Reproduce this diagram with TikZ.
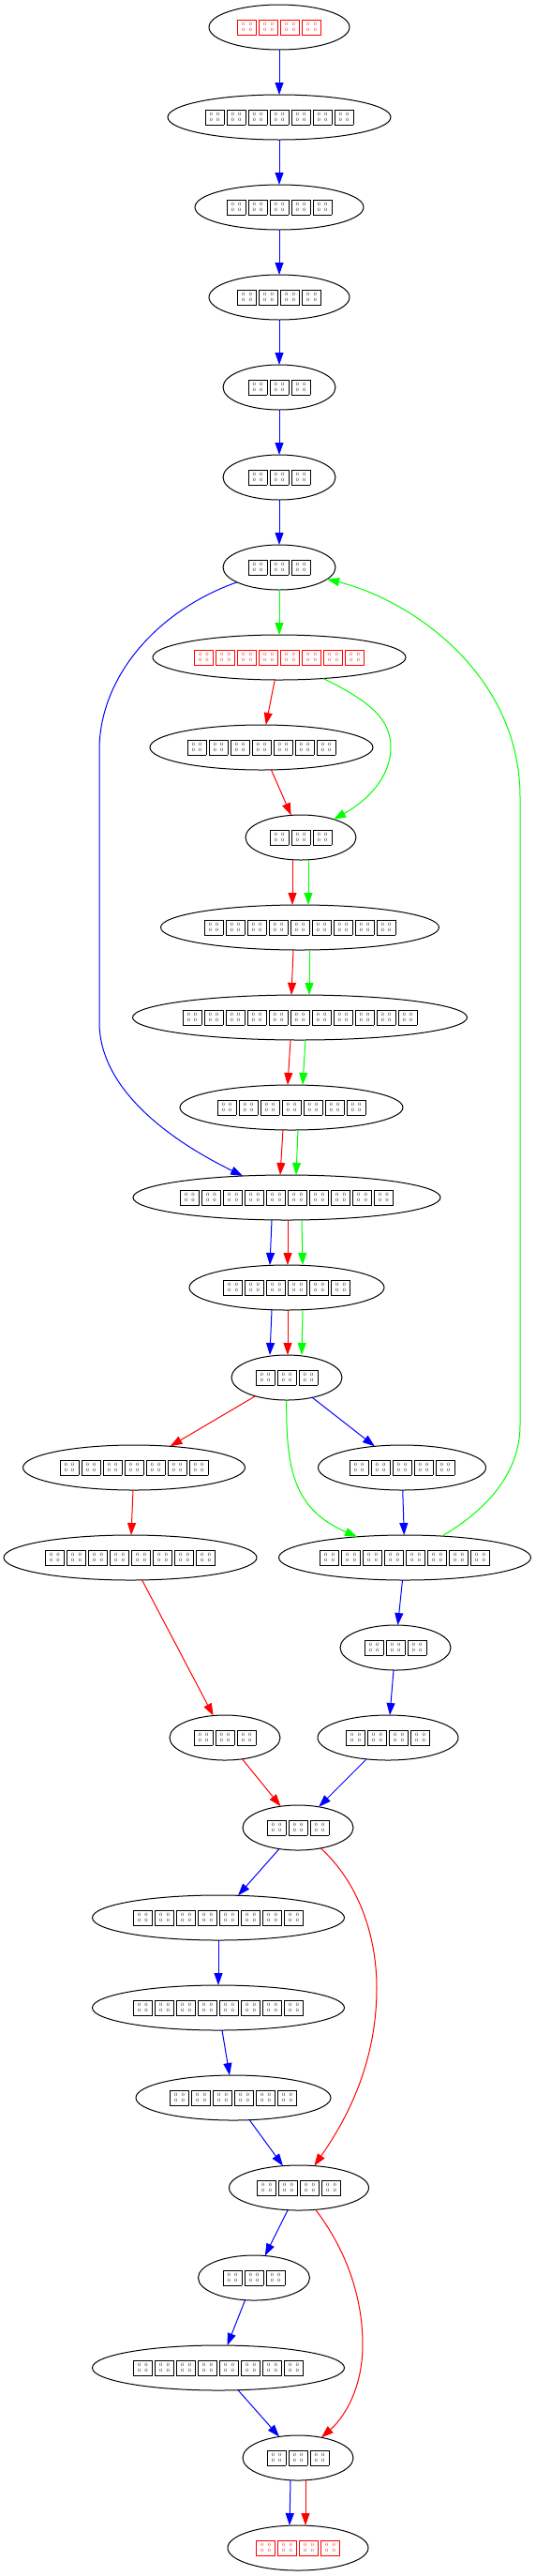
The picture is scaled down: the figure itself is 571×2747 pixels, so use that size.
\documentclass[tikz,border=0pt]{standalone}
\usetikzlibrary{shapes.geometric,arrows.meta,calc}
\newcommand\tofuglyph{\kern1.2pt{\fboxsep=0pt\fboxrule=0.8pt\fbox{\fontsize{5}{5}\selectfont\vbox to 15pt{\vss\hbox to 19pt{\hss0\kern4pt0\hss}\kern0.6pt\hbox to 19pt{\hss0\kern4pt0\hss}\vss}}}\kern1.2pt}
\newcommand\tofus[1]{\makebox[0pt]{\foreach\i in {1,...,#1}{\tofuglyph}}}
\begin{document}
\begin{tikzpicture}[x=1pt,y=-1pt,
  nd/.style={ellipse,draw=black,line width=1pt,minimum height=48pt,inner sep=0pt,outer sep=0pt},
  arr/.style={line width=1pt,-{Triangle[length=13pt,width=9pt]}}]
\useasboundingbox (0,0) rectangle (571,2747);
\node[nd,minimum width=150pt,text=red] (n1) at (298,29) {\tofus{4}};
\node[nd,minimum width=238pt] (n2) at (298,125) {\tofus{7}};
\node[nd,minimum width=180pt] (n3) at (298,221) {\tofus{5}};
\node[nd,minimum width=150pt] (n4) at (298,317) {\tofus{4}};
\node[nd,minimum width=120pt] (n5) at (298,413) {\tofus{3}};
\node[nd,minimum width=120pt] (n6) at (298,509) {\tofus{3}};
\node[nd,minimum width=120pt] (n7) at (298,605) {\tofus{3}};
\node[nd,minimum width=270pt,text=red] (n8) at (298,701) {\tofus{8}};
\node[nd,minimum width=238pt] (n9) at (279,797) {\tofus{7}};
\node[nd,minimum width=118pt] (n10) at (321,893) {\tofus{3}};
\node[nd,minimum width=297pt] (n11) at (320,989) {\tofus{9}};
\node[nd,minimum width=357pt] (n12) at (320,1085) {\tofus{11}};
\node[nd,minimum width=238pt] (n13) at (311,1181) {\tofus{7}};
\node[nd,minimum width=328pt] (n14) at (306,1277) {\tofus{10}};
\node[nd,minimum width=208pt] (n15) at (306,1373) {\tofus{6}};
\node[nd,minimum width=118pt] (n16) at (306,1469) {\tofus{3}};
\node[nd,minimum width=237pt] (n17) at (143,1565) {\tofus{7}};
\node[nd,minimum width=179pt] (n18) at (429,1565) {\tofus{5}};
\node[nd,minimum width=270pt] (n19) at (139,1661) {\tofus{8}};
\node[nd,minimum width=269pt] (n20) at (432,1661) {\tofus{8}};
\node[nd,minimum width=118pt] (n21) at (422,1757) {\tofus{3}};
\node[nd,minimum width=118pt] (n22) at (240,1853) {\tofus{3}};
\node[nd,minimum width=150pt] (n23) at (414,1853) {\tofus{4}};
\node[nd,minimum width=118pt] (n24) at (318,1949) {\tofus{3}};
\node[nd,minimum width=269pt] (n25) at (233,2045) {\tofus{8}};
\node[nd,minimum width=269pt] (n26) at (233,2141) {\tofus{8}};
\node[nd,minimum width=208pt] (n27) at (249,2237) {\tofus{6}};
\node[nd,minimum width=149pt] (n28) at (319,2333) {\tofus{4}};
\node[nd,minimum width=119pt] (n29) at (271,2429) {\tofus{3}};
\node[nd,minimum width=269pt] (n30) at (233,2525) {\tofus{8}};
\node[nd,minimum width=118pt] (n31) at (318,2621) {\tofus{3}};
\node[nd,minimum width=150pt,text=red] (n32) at (318,2717) {\tofus{4}};
% top chain
\draw[arr,blue] (n1) -- (n2);
\draw[arr,blue] (n2) -- (n3);
\draw[arr,blue] (n3) -- (n4);
\draw[arr,blue] (n4) -- (n5);
\draw[arr,blue] (n5) -- (n6);
\draw[arr,blue] (n6) -- (n7);
\draw[arr,green] (n7) -- (n8);
\draw[arr,blue] (n7) .. controls (170,650) and (106,720) .. (106,800) -- (106,1090) .. controls (106,1170) and (200,1225) .. (n14);
\draw[arr,red] (n8) -- (n9);
\draw[arr,green] (n8) .. controls (400,750) and (417,770) .. (417,797) .. controls (417,830) and (390,855) .. (n10);
\draw[arr,red] (n9) -- (n10);
\draw[arr,red] ($(n10.south)+(-9,0)$) -- ($(n11.north)+(-8,0)$);
\draw[arr,green] ($(n10.south)+(8,0)$) -- ($(n11.north)+(9,0)$);
\draw[arr,red] ($(n11.south)+(-7,0)$) -- ($(n12.north)+(-9,0)$);
\draw[arr,green] ($(n11.south)+(10,0)$) -- ($(n12.north)+(10,0)$);
\draw[arr,red] ($(n12.south)+(-10,0)$) -- ($(n13.north)+(-4,0)$);
\draw[arr,green] ($(n12.south)+(6,0)$) -- ($(n13.north)+(12,0)$);
\draw[arr,red] ($(n13.south)+(-9,0)$) -- ($(n14.north)+(-7,0)$);
\draw[arr,green] ($(n13.south)+(7,0)$) -- ($(n14.north)+(10,0)$);
\draw[arr,blue] ($(n14.south)+(-16,0)$) -- ($(n15.north)+(-18,0)$);
\draw[arr,red] ($(n14.south)+(1,0)$) -- ($(n15.north)+(1,0)$);
\draw[arr,green] ($(n14.south)+(16,0)$) -- ($(n15.north)+(17,0)$);
\draw[arr,blue] ($(n15.south)+(-16,0)$) -- ($(n16.north)+(-18,0)$);
\draw[arr,red] ($(n15.south)+(1,0)$) -- ($(n16.north)+(1,0)$);
\draw[arr,green] ($(n15.south)+(17,0)$) -- ($(n16.north)+(16,0)$);
% branch
\draw[arr,red] (n16) -- (n17);
\draw[arr,blue] (n16) -- (n18);
\draw[arr,green] (n16) .. controls (305,1570) and (315,1610) .. (n20);
\draw[arr,green] (n20) .. controls (520,1610) and (555,1570) .. (555,1520) -- (555,850) .. controls (555,720) and (440,640) .. (n7);
\draw[arr,red] (n17) -- (n19);
\draw[arr,blue] (n18) -- (n20);
\draw[arr,red] (n19) -- (n22);
\draw[arr,blue] (n20) -- (n21);
\draw[arr,blue] (n21) -- (n23);
\draw[arr,red] (n22) -- (n24);
\draw[arr,blue] (n23) -- (n24);
\draw[arr,blue] (n24) -- (n25);
\draw[arr,red] (n24) .. controls (380,2005) and (402,2060) .. (402,2120) .. controls (402,2200) and (370,2260) .. (n28);
\draw[arr,blue] (n25) -- (n26);
\draw[arr,blue] (n26) -- (n27);
\draw[arr,blue] (n27) -- (n28);
\draw[arr,blue] (n28) -- (n29);
\draw[arr,red] (n28) .. controls (370,2400) and (387,2450) .. (387,2500) .. controls (387,2550) and (365,2580) .. (n31);
\draw[arr,blue] (n29) -- (n30);
\draw[arr,blue] (n30) -- (n31);
\draw[arr,blue] ($(n31.south)+(-8,0)$) -- ($(n32.north)+(-9,0)$);
\draw[arr,red] ($(n31.south)+(8,0)$) -- ($(n32.north)+(8,0)$);
\end{tikzpicture}
\end{document}
